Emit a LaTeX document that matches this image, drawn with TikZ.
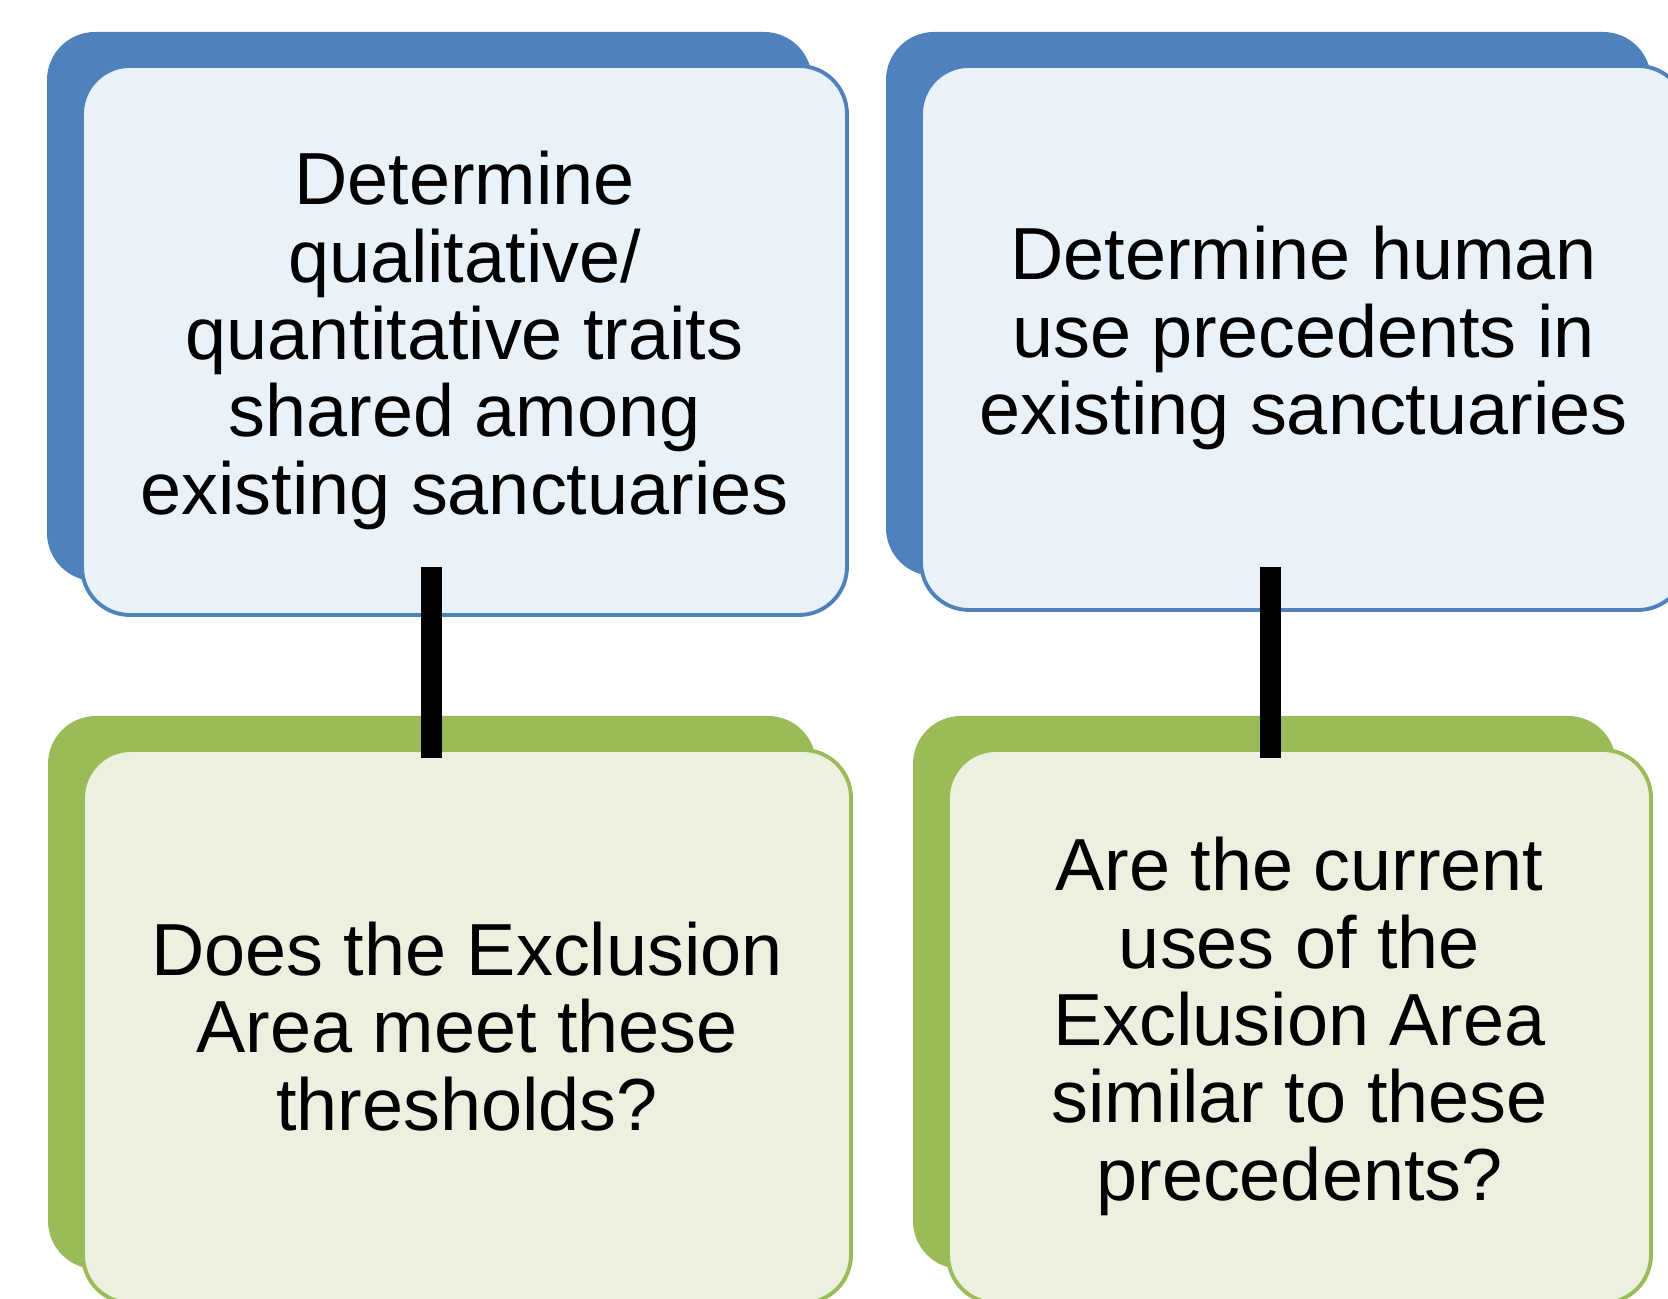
\documentclass[tikz,border=0pt]{standalone}
\usepackage{fontspec}
\setmainfont{Liberation Sans}
\definecolor{accblue}{HTML}{4F81BD}
\definecolor{paleblue}{HTML}{E8F2F8}
\definecolor{accgreen}{HTML}{9BBB59}
\definecolor{palegreen}{HTML}{EBF0DF}
\tikzset{
  card/.style = {rectangle, rounded corners = .48cm, inner sep = 0pt, align = center,
    font = \fontsize{21}{22}\selectfont, line width = 1.1pt},
  backcard/.style = {card, fill = #1},
  frontcard/.style = {card, draw = #1},
  link/.style = {line width = .21cm}
}
\begin{document}
\begin{tikzpicture}
    \clip (0,0) rectangle (16.68,12.99);
    \node [backcard = accblue, minimum width = 7.65cm, minimum height = 5.49cm] (traitsback) at (4.295,9.925) {};
    \node [frontcard = accblue, fill = paleblue, minimum width = 7.65cm, minimum height = 5.49cm] (traits) at (4.645,9.585)
      {Determine\\ qualitative/\\ quantitative traits\\ shared among\\ existing sanctuaries};
    \node [backcard = accblue, minimum width = 7.65cm, minimum height = 5.44cm] (usesback) at (12.685,9.95) {};
    \node [frontcard = accblue, fill = paleblue, minimum width = 7.65cm, minimum height = 5.44cm] (uses) at (13.035,9.61)
      {Determine human\\ use precedents in\\ existing sanctuaries};
    \node [backcard = accgreen, minimum width = 7.68cm, minimum height = 5.53cm] (meetback) at (4.32,3.065) {};
    \node [frontcard = accgreen, fill = palegreen, minimum width = 7.68cm, minimum height = 5.53cm] (meet) at (4.67,2.725)
      {Does the Exclusion\\ Area meet these\\ thresholds?};
    \node [backcard = accgreen, minimum width = 7.03cm, minimum height = 5.53cm] (similarback) at (12.645,3.065) {};
    \node [frontcard = accgreen, fill = palegreen, minimum width = 7.03cm, minimum height = 5.53cm] (similar) at (12.995,2.725)
      {Are the current\\ uses of the\\ Exclusion Area\\ similar to these\\ precedents?};
    \coordinate (traitsfoot) at (4.31,7.32);
    \coordinate (meethead) at (4.31,5.41);
    \coordinate (usesfoot) at (12.70,7.32);
    \coordinate (similarhead) at (12.70,5.41);
    \draw [link] (traitsfoot) -- (meethead);
    \draw [link] (usesfoot) -- (similarhead);
  \end{tikzpicture}
\end{document}
